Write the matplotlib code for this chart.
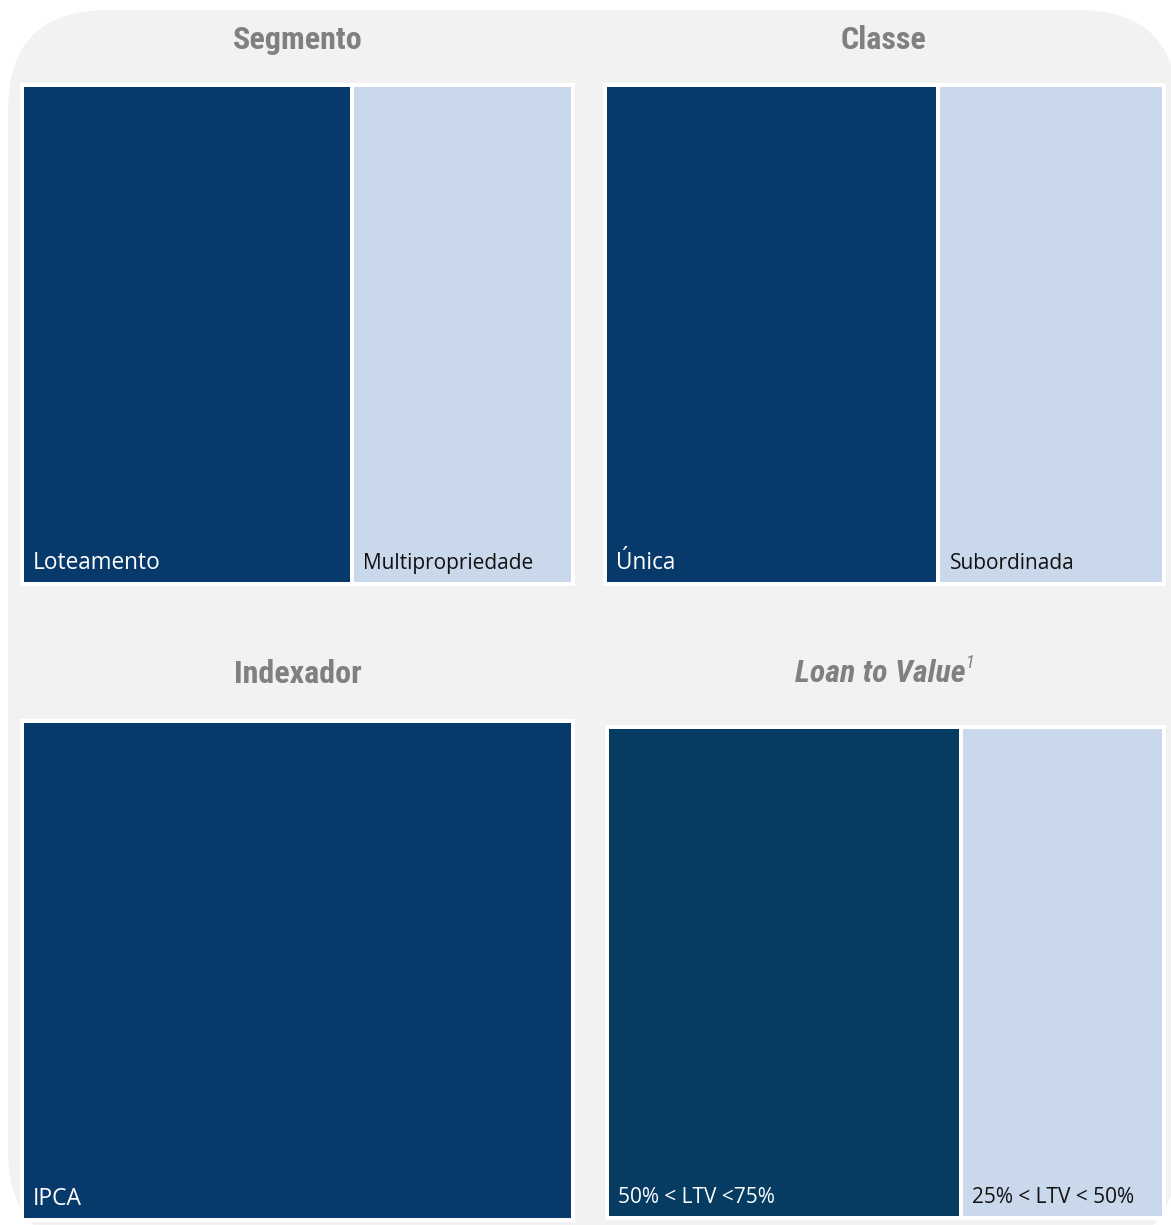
import matplotlib.pyplot as plt
from matplotlib.patches import Rectangle, FancyBboxPatch

# data (share of portfolio, %)
segmento_labels = ['Loteamento', 'Multipropriedade']
segmento_values = [60.0, 40.0]
classe_labels = ['Única', 'Subordinada']
classe_values = [59.8, 40.2]
indexador_labels = ['IPCA']
indexador_values = [100.0]
ltv_labels = ['50% < LTV <75%', '25% < LTV < 50%']
ltv_values = [63.8, 36.2]

DARK = '#073a6b'
DARK_LTV = '#063b62'
LIGHT = '#c9d9eb'
GREY_TITLE = '#808080'
BG = '#f2f2f2'

W, H = 1171, 1225
fig = plt.figure(figsize=(W / 100, H / 100), dpi=100)
fig.patch.set_facecolor('white')

# background axes in pixel coordinates
bg = fig.add_axes([0, 0, 1, 1])
bg.set_xlim(0, W)
bg.set_ylim(H, 0)
bg.axis('off')
bg.add_patch(FancyBboxPatch((8 + 100, 10 + 100), 1070 - 100, 1140 - 100,
                            boxstyle='round,pad=100,rounding_size=100',
                            facecolor=BG, edgecolor='none'))

title_font = ['Roboto Condensed', 'Roboto', 'DejaVu Sans']
label_font = ['Open Sans', 'DejaVu Sans']

for x, y, t in [(298, 40, 'Segmento'), (884, 40, 'Classe'), (298, 674, 'Indexador')]:
    bg.text(x, y, t, ha='center', va='center', fontsize=23, fontweight='bold',
            color=GREY_TITLE, family=title_font)

ltv_title = bg.text(880, 674, 'Loan to Value', ha='center', va='center', fontsize=23,
                    fontweight='bold', style='italic', color=GREY_TITLE, family=title_font)
fig.canvas.draw()
bb = ltv_title.get_window_extent()
x_end = bg.transData.inverted().transform((bb.x1, bb.y1))[0]
bg.text(x_end + 1, 663, '1', ha='left', va='center', fontsize=13, style='italic',
        color=GREY_TITLE, family=title_font)


def treemap(box, labels, values, colors, text_colors, sizes, base):
    # box = (left, top, right, bottom) of the white frame in pixels
    x0, y0, x1, y1 = box
    fw, fh = x1 - x0, y1 - y0
    ax = fig.add_axes([x0 / W, 1 - y1 / H, fw / W, fh / H])
    ax.set_xlim(0, fw)
    ax.set_ylim(0, fh)
    ax.set_facecolor('white')
    ax.set_xticks([])
    ax.set_yticks([])
    for s in ax.spines.values():
        s.set_visible(False)
    pad, gap = 4, 4
    usable = fw - 2 * pad - gap * (len(values) - 1)
    total = sum(values)
    x = pad
    for lab, v, c, tc, fs in zip(labels, values, colors, text_colors, sizes):
        w = usable * v / total
        ax.add_patch(Rectangle((x, pad), w, fh - 2 * pad, facecolor=c, edgecolor='none'))
        ax.text(x + 9, pad + base, lab, ha='left', va='baseline', fontsize=fs,
                color=tc, family=label_font)
        x += w + gap


treemap((20, 83, 575, 586), segmento_labels, segmento_values,
        [DARK, LIGHT], ['white', '#111111'], [16.3, 15], 13)
treemap((603, 83, 1166, 586), classe_labels, classe_values,
        [DARK, LIGHT], ['white', '#111111'], [16.3, 15], 13)
treemap((20, 719, 575, 1222), indexador_labels, indexador_values,
        [DARK], ['white'], [16.5], 13)
treemap((605, 725, 1166, 1220), ltv_labels, ltv_values,
        [DARK_LTV, LIGHT], ['white', '#111111'], [15, 15], 13)

fig.savefig('out.png', dpi=100)
